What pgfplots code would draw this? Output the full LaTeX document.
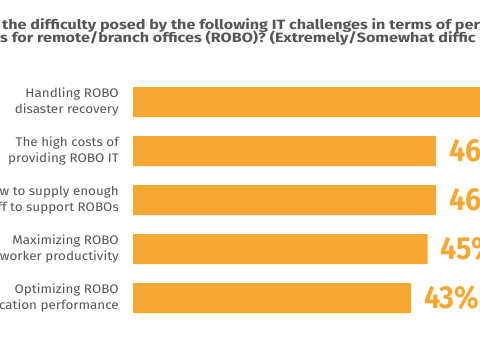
\documentclass[border=0pt]{standalone}
\usepackage{pgfplots}
\pgfplotsset{compat=1.18}
\usepackage{fontspec}
\setmainfont{Fira Sans}
\newfontfamily\valfont[FakeStretch=0.9]{Fira Sans}
\newfontfamily\titlefont[FakeStretch=1.2]{Fira Sans}
\newfontfamily\labfont[FakeStretch=1.08]{Fira Sans}
\definecolor{barorange}{HTML}{F7A833}
\definecolor{txtgray}{HTML}{555555}
\begin{document}
\begin{tikzpicture}
\path[use as bounding box] (0bp,0bp) rectangle (480bp,350bp);
\clip (0bp,0bp) rectangle (480bp,350bp);
\node[anchor=base west, inner sep=0pt, text=txtgray, font=\titlefont\bfseries\fontsize{13.5}{13.5}\selectfont] at (2bp,320.7bp) {the difficulty posed by the following IT challenges in terms of per};
\node[anchor=base west, inner sep=0pt, text=txtgray, font=\titlefont\bfseries\fontsize{13.5}{13.5}\selectfont] at (0bp,307.3bp) {s for remote/branch offices (ROBO)? (Extremely/Somewhat diffic};
\begin{axis}[
  at={(133bp,27.5bp)}, anchor=south west,
  scale only axis, width=400bp, height=245bp,
  xbar, bar width=30bp,
  xmin=9.64, xmax=57.64,
  ymin=-0.5, ymax=4.5, y dir=reverse,
  axis line style={draw=none},
  xtick=\empty, ytick={0,1,2,3,4},
  major tick length=0pt,
  yticklabels={{Handling ROBO\\disaster recovery},{The high costs of\\providing ROBO IT},{w to supply enough\\ff to support ROBOs},{Maximizing ROBO\\worker productivity},{Optimizing ROBO\\cation performance}},
  yticklabel style={align=right, text=txtgray, font=\labfont\fontsize{12.5}{15.5}\selectfont, inner sep=0pt, xshift=-14bp},
  nodes near coords={\pgfmathprintnumber[assume math mode=true]{\pgfplotspointmeta}\%},
  nodes near coords style={font=\valfont\bfseries\fontsize{32}{32}\selectfont, text=barorange, anchor=west, inner sep=0pt, xshift=13bp},
]
\addplot[fill=barorange, draw=none] coordinates {(53,0) (46,1) (46,2) (45,3) (43,4)};
\end{axis}
\end{tikzpicture}
\end{document}
